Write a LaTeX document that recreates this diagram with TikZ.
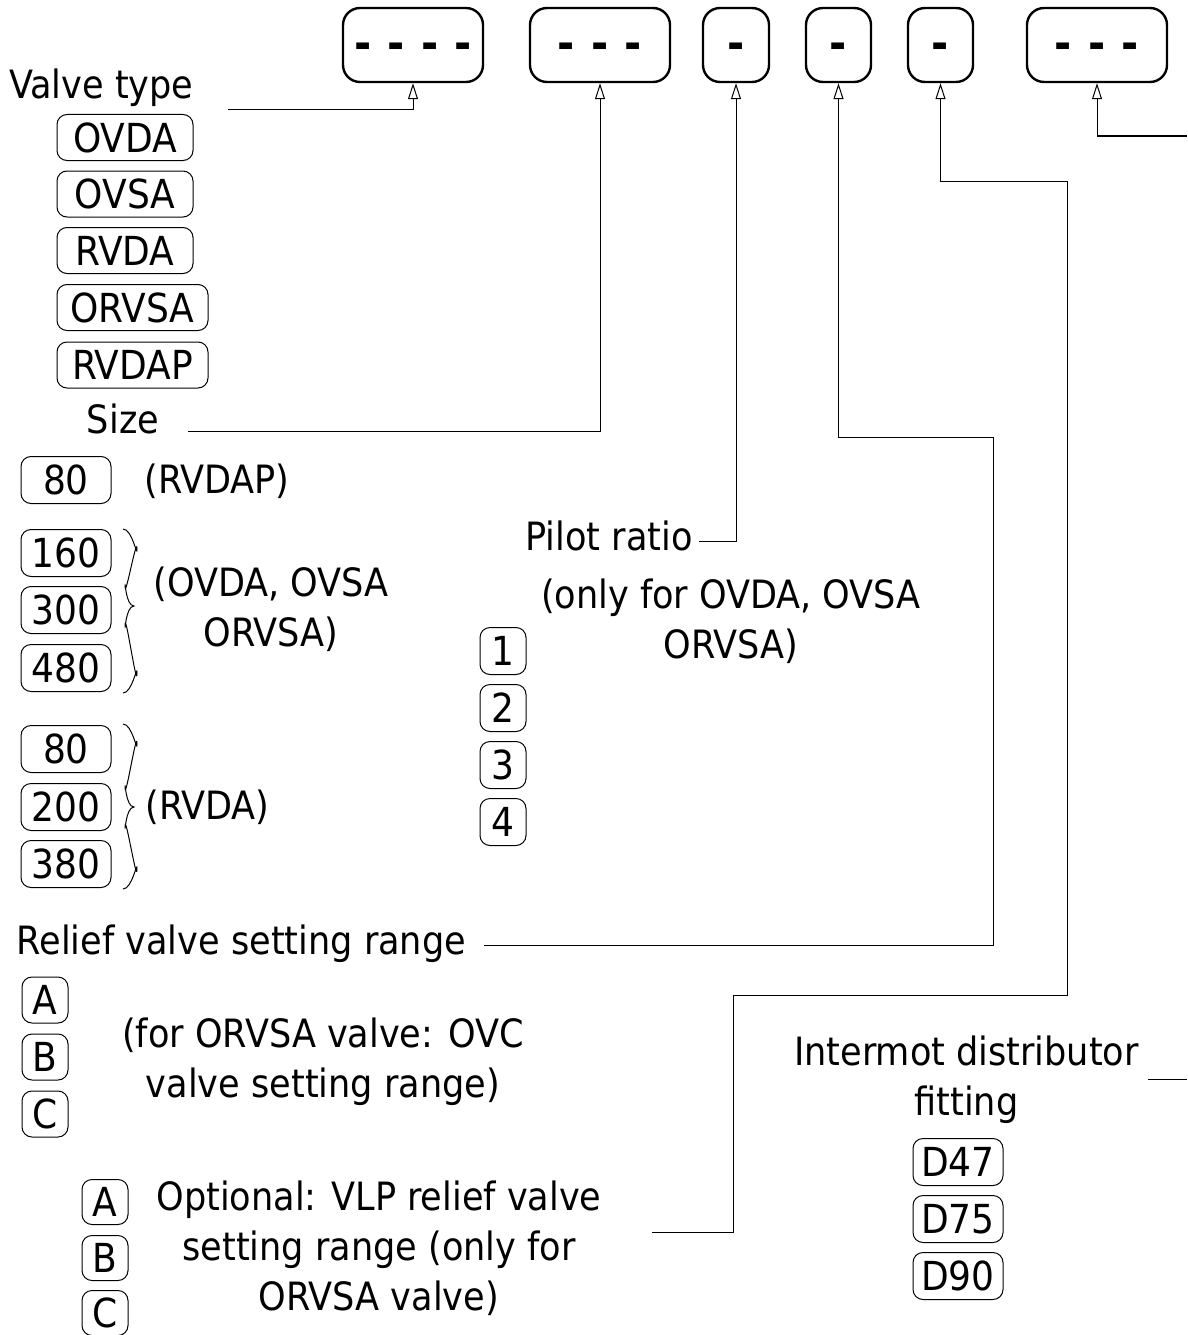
\documentclass[tikz,border=0pt]{standalone}
\usepackage{fontspec}
\setmainfont{DejaVu Sans Condensed}
\usetikzlibrary{arrows.meta}
\newcommand\dashgap{\hspace{16.3pt}}
\newcommand\dashrow[1]{\raisebox{-15pt}[0pt][0pt]{#1}}
\newcommand\mybrace[3]{%
  \draw[brc] (123,#1) to[out=0,in=-90] (137,{#1+20}) to[out=90,in=-90] (125,{#2-20})
    to[out=90,in=180] (134,#2) to[out=180,in=-90] (125,{#2+20})
    to[out=90,in=-90] (137,{#3-20}) to[out=90,in=0] (123,#3);}
\begin{document}
\begin{tikzpicture}[x=1pt,y=-1pt,
  lbl/.style={font=\fontsize{39}{50}\selectfont, inner sep=0pt},
  opt/.style={draw, line width=1pt, rounded corners=10pt, minimum height=46pt, inner sep=0pt, font=\fontsize{40}{40}\selectfont},
  field/.style={draw, line width=2.4pt, rounded corners=17pt, minimum height=74pt, inner sep=0pt, font=\fontsize{46}{46}\selectfont\bfseries},
  conn/.style={line width=1pt},
  arr/.style={conn, -{Triangle[open, length=16pt, width=10pt, line width=1pt]}},
  brc/.style={line width=1pt}]
\useasboundingbox (0,0) rectangle (1187,1335);

% code fields
\node[field, minimum width=140pt] (b1) at (413,45) {\dashrow{-\dashgap-\dashgap-\dashgap-}};
\node[field, minimum width=140pt] (b2) at (600,45) {\dashrow{-\dashgap-\dashgap-}};
\node[field, minimum width=66pt] (b3) at (736,45) {\dashrow{-}};
\node[field, minimum width=65pt] (b4) at (838.5,45) {\dashrow{-}};
\node[field, minimum width=65pt] (b5) at (940.5,45) {\dashrow{-}};
\node[field, minimum width=140pt] (b6) at (1097,45) {\dashrow{-\dashgap-\dashgap-}};

% valve type
\node[lbl, anchor=base] (vt) at (101.5,99) {Valve type};
\node[opt, minimum width=136pt] (ovda) at (125,137.5) {OVDA};
\node[opt, minimum width=136pt] (ovsa) at (125,194) {OVSA};
\node[opt, minimum width=136pt] (rvda) at (125,250.5) {RVDA};
\node[opt, minimum width=151pt] (orvsa) at (132.5,307.5) {ORVSA};
\node[opt, minimum width=151pt] (rvdap) at (132.5,365) {RVDAP};

% size
\node[lbl, anchor=base] (size) at (123,433) {Size};
\node[opt, minimum width=90pt, minimum height=47pt] (s80a) at (66,480) {80};
\node[lbl, anchor=base] (nrvdap) at (217,493) {(RVDAP)};
\node[opt, minimum width=90pt, minimum height=47pt] (s160) at (66,553) {160};
\node[opt, minimum width=90pt, minimum height=47pt] (s300) at (66,610) {300};
\node[opt, minimum width=90pt, minimum height=47pt] (s480) at (66,668) {480};
\mybrace{529}{606}{693}
\node[lbl, align=center] (novda) at (271,609) {(OVDA, OVSA\\ORVSA)};
\node[opt, minimum width=90pt, minimum height=47pt] (s80b) at (66,749) {80};
\node[opt, minimum width=90pt, minimum height=47pt] (s200) at (66,807) {200};
\node[opt, minimum width=90pt, minimum height=47pt] (s380) at (66,864) {380};
\mybrace{724}{807}{889}
\node[lbl, anchor=base] (nrvda) at (207.5,819) {(RVDA)};

% pilot ratio
\node[lbl, anchor=base] (pilot) at (609,550) {Pilot ratio};
\node[lbl, align=center] (npilot) at (731,621) {(only for OVDA, OVSA\\ORVSA)};
\node[opt, minimum width=46pt, minimum height=47pt] (p1) at (503,651) {1};
\node[opt, minimum width=46pt, minimum height=47pt] (p2) at (503,708) {2};
\node[opt, minimum width=46pt, minimum height=47pt] (p3) at (503,765) {3};
\node[opt, minimum width=46pt, minimum height=47pt] (p4) at (503,822) {4};

% relief valve setting range
\node[lbl, anchor=base] (relief) at (241.5,954) {Relief valve setting range};
\node[opt, minimum width=46pt] (ra) at (45,1000) {A};
\node[opt, minimum width=46pt] (rb) at (45,1057) {B};
\node[opt, minimum width=46pt] (rc) at (45,1114) {C};
\node[lbl, align=center] (nrelief) at (323,1062) {(for ORVSA valve: OVC\\valve setting range)};

% optional VLP
\node[opt, minimum width=46pt, minimum height=45pt] (va) at (105,1202) {A};
\node[opt, minimum width=46pt, minimum height=45pt] (vb) at (105,1258) {B};
\node[opt, minimum width=46pt, minimum height=45pt] (vc) at (105,1313) {C};
\node[lbl, align=center] (vlp) at (379,1248) {Optional: VLP relief valve\\setting range (only for\\ORVSA valve)};

% intermot
\node[lbl, align=center] (inter) at (966.5,1080) {Intermot distributor\\fitting};
\node[opt, minimum width=90pt, minimum height=47pt] (d47) at (958,1162) {D47};
\node[opt, minimum width=90pt, minimum height=47pt] (d75) at (958,1219) {D75};
\node[opt, minimum width=90pt, minimum height=47pt] (d90) at (958,1276) {D90};

% connectors
\coordinate (c1) at (228,110);
\draw[arr] (c1) -| (b1.south);
\coordinate (c2) at (188,431);
\draw[arr] (c2) -| (b2.south);
\coordinate (c3) at (699,541);
\draw[arr] (c3) -| (b3.south);
\coordinate (c4) at (484,945);
\draw[arr] (c4) -| (993,437) -| (b4.south);
\coordinate (c5) at (652,1232);
\draw[arr] (c5) -| (733,995) -| (1067,181) -| (b5.south);
\coordinate (c6) at (1187,136);
\draw[arr] (c6) -| (b6.south);
\coordinate (c7a) at (1148,1079);
\coordinate (c7b) at (1187,1079);
\draw[conn] (c7a) -- (c7b);
\end{tikzpicture}
\end{document}
